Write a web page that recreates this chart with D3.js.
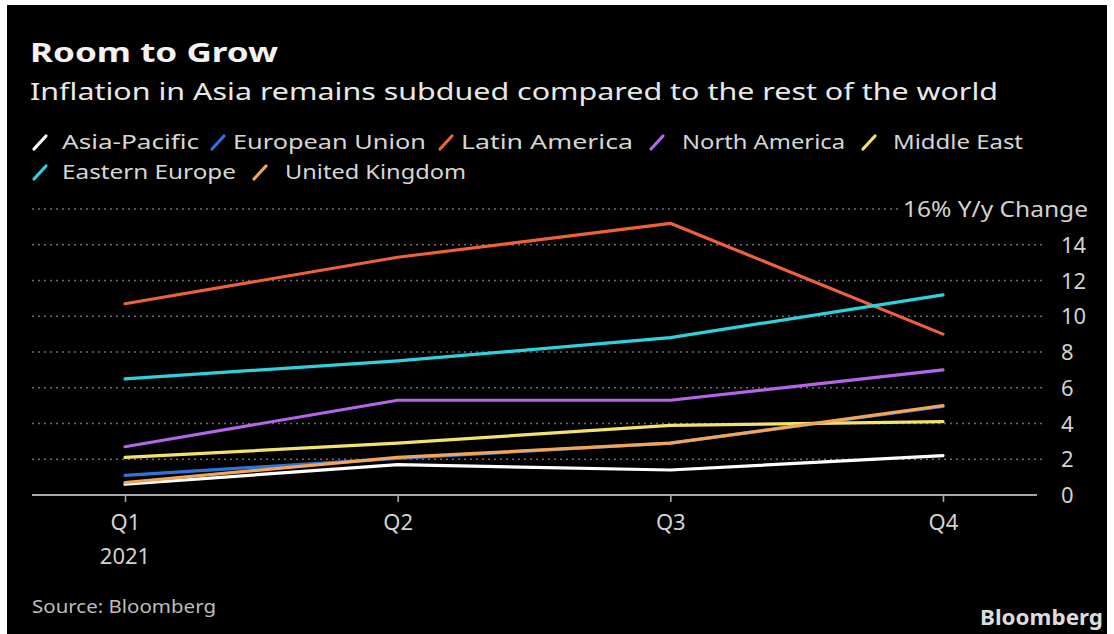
<!DOCTYPE html>
<html>
<head>
<meta charset="utf-8">
<script src="https://cdn.jsdelivr.net/npm/d3@7"></script>
<style>
  html, body { margin: 0; padding: 0; background: #ffffff; }
  svg { display: block; }
  text { font-family: "Noto Sans", "DejaVu Sans", sans-serif; }
</style>
</head>
<body>
<svg id="chart" width="1114" height="634"></svg>
<script>
// Quarterly year-over-year inflation, 2021
const quarters = ["Q1", "Q2", "Q3", "Q4"];
const regions = ["Asia-Pacific", "European Union", "Latin America", "North America", "Middle East", "Eastern Europe", "United Kingdom"];
const colors = ["#ffffff", "#2f74dc", "#ee6238", "#b566e8", "#f3e36c", "#2cd2de", "#f2a458"];

const asiaPacific    = [0.6, 1.7, 1.4, 2.2];
const europeanUnion  = [1.1, 2.05, 2.9, 4.95];
const latinAmerica   = [10.7, 13.3, 15.2, 9.0];
const northAmerica   = [2.7, 5.3, 5.3, 7.0];
const middleEast     = [2.1, 2.9, 3.9, 4.1];
const easternEurope  = [6.5, 7.5, 8.8, 11.2];
const unitedKingdom  = [0.7, 2.1, 2.9, 5.0];

const seriesValues = [asiaPacific, europeanUnion, latinAmerica, northAmerica, middleEast, easternEurope, unitedKingdom];
const yTicks = [0, 2, 4, 6, 8, 10, 12, 14];
const yTopTick = 16;

const svg = d3.select("#chart");

// dark card with a thin light frame
svg.append("rect").attr("x", 7).attr("y", 5).attr("width", 1100).attr("height", 629).attr("fill", "#000000");

// place a text at a fixed size, stretched to a set width
function label(parent, x0, y0, size, width, str, fill, weight) {
  return parent.append("text")
    .attr("x", x0).attr("y", y0)
    .attr("font-size", size)
    .attr("font-weight", weight || "normal")
    .attr("fill", fill)
    .attr("textLength", width)
    .attr("lengthAdjust", "spacingAndGlyphs")
    .text(str);
}

// headline and subtitle
label(svg, 30, 62, 27, 248, "Room to Grow", "#f2f2f2", "bold");
label(svg, 30, 100, 24, 968, "Inflation in Asia remains subdued compared to the rest of the world", "#e8e8e8");

// legend
const legendItems = [
  { row: 0, sx: 34, tx: 62, tw: 137 },
  { row: 0, sx: 212, tx: 233, tw: 193 },
  { row: 0, sx: 440, tx: 461, tw: 172 },
  { row: 0, sx: 651, tx: 682, tw: 163 },
  { row: 0, sx: 863, tx: 893, tw: 130 },
  { row: 1, sx: 34, tx: 62, tw: 174 },
  { row: 1, sx: 254, tx: 285, tw: 181 }
];
const legendRows = [142, 172];
const legend = svg.append("g");
legendItems.forEach((it, i) => {
  const cy = legendRows[it.row];
  legend.append("line")
    .attr("x1", it.sx).attr("y1", cy + 7).attr("x2", it.sx + 12).attr("y2", cy - 6)
    .attr("stroke", colors[i]).attr("stroke-width", 3.2).attr("stroke-linecap", "round");
  label(legend, it.tx, cy + 7, 19, it.tw, regions[i], "#d6d6d6");
});

// scales
const x = d3.scalePoint().domain(quarters).range([125, 943]);
const y = d3.scaleLinear().domain([0, 16]).range([495, 209]);

// dotted gridlines
const grid = svg.append("g");
grid.selectAll("line.g").data(yTicks.filter(d => d > 0)).join("line")
  .attr("x1", 32).attr("x2", 1043)
  .attr("y1", d => y(d)).attr("y2", d => y(d))
  .attr("stroke", "#6e6e6e").attr("stroke-width", 1.6).attr("stroke-dasharray", "2 4");
grid.append("line")
  .attr("x1", 32).attr("x2", 898)
  .attr("y1", y(yTopTick)).attr("y2", y(yTopTick))
  .attr("stroke", "#6e6e6e").attr("stroke-width", 1.6).attr("stroke-dasharray", "2 4");

// right-hand value labels
const yAxis = d3.axisRight(y).tickValues(yTicks).tickSize(0).tickPadding(0).tickFormat(d3.format("d"));
const yg = svg.append("g").attr("transform", "translate(1061,0)").call(yAxis);
yg.attr("font-size", null).attr("font-family", null);
yg.select(".domain").remove();
yg.selectAll("text").attr("font-size", 22).attr("fill", "#d2d2d2").attr("dy", "0.35em");
label(svg, 903, y(yTopTick) + 8, 21, 185, yTopTick + "% Y/y Change", "#d2d2d2");

// quarter axis
const xAxis = d3.axisBottom(x).tickSize(7).tickPadding(12);
const xg = svg.append("g").attr("transform", `translate(0,${y(0)})`).call(xAxis);
xg.attr("font-size", null).attr("font-family", null);
xg.select(".domain").remove();
svg.append("line").attr("x1", 32).attr("x2", 1037).attr("y1", y(0)).attr("y2", y(0))
  .attr("stroke", "#a8a8a8").attr("stroke-width", 2);
xg.selectAll(".tick line").attr("stroke", "#a8a8a8").attr("stroke-width", 1.6);
xg.selectAll(".tick text").attr("font-size", 22).attr("fill", "#d2d2d2");
svg.append("text").attr("x", x("Q1")).attr("y", 564).attr("text-anchor", "middle")
  .attr("font-size", 22).attr("fill", "#d2d2d2").text("2021");

// series lines
const line = d3.line().x((d, i) => x(quarters[i])).y(d => y(d));
svg.append("g").selectAll("path").data(seriesValues).join("path")
  .attr("d", line).attr("fill", "none")
  .attr("stroke", (d, i) => colors[i]).attr("stroke-width", 3.2)
  .attr("stroke-linejoin", "round").attr("stroke-linecap", "round");

// footer
label(svg, 32, 613, 18, 184, "Source: Bloomberg", "#bdbdbd");
label(svg, 980, 625, 21, 123, "Bloomberg", "#dcdcdc", "bold");
</script>
</body>
</html>
